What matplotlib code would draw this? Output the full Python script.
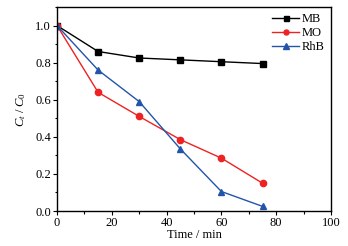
import matplotlib
matplotlib.use("Agg")
import matplotlib.pyplot as plt
from matplotlib.ticker import MultipleLocator

# data
time = [0, 15, 30, 45, 60, 75]
mb = [1.0, 0.86, 0.825, 0.815, 0.805, 0.795]
mo = [1.0, 0.64, 0.51, 0.385, 0.285, 0.15]
rhb = [1.0, 0.76, 0.59, 0.335, 0.105, 0.025]
labels = ["MB", "MO", "RhB"]

plt.rcParams["font.family"] = ["Liberation Serif", "DejaVu Serif"]
plt.rcParams["mathtext.fontset"] = "custom"
plt.rcParams["mathtext.rm"] = "Liberation Serif"
plt.rcParams["mathtext.it"] = "Liberation Serif:italic"

fig = plt.figure(figsize=(3.48, 2.46), dpi=100)
ax = fig.add_axes([57 / 348, 1 - 211 / 246, 274 / 348, 204 / 246])

ax.plot(time, mb, "-s", color="black", ms=4.5, lw=1, label=labels[0])
ax.plot(time, mo, "-o", color="#ee2222", ms=4.5, lw=1, label=labels[1])
ax.plot(time, rhb, "-^", color="#2255aa", ms=5, lw=1, label=labels[2])

ax.set_xlim(0, 100)
ax.set_ylim(0, 1.1)
ax.xaxis.set_major_locator(MultipleLocator(20))
ax.xaxis.set_minor_locator(MultipleLocator(10))
ax.yaxis.set_major_locator(MultipleLocator(0.2))
ax.yaxis.set_minor_locator(MultipleLocator(0.1))
ax.yaxis.set_major_formatter(plt.FormatStrFormatter("%.1f"))
ax.tick_params(which="major", length=3, width=0.8, labelsize=9, pad=1.5)
ax.tick_params(which="minor", length=1.8, width=0.8)
for s in ax.spines.values():
    s.set_linewidth(1)

ax.set_xlabel("Time / min", fontsize=9, labelpad=0)
ax.set_ylabel(r"$C_t\ /\ C_0$", fontsize=9, labelpad=5)

ax.legend(loc="upper right", frameon=False, fontsize=9, handlelength=2.2,
          handletextpad=0.2, labelspacing=0.15, borderaxespad=0.1,
          markerscale=0.8)

fig.savefig("out.png", dpi=100)
